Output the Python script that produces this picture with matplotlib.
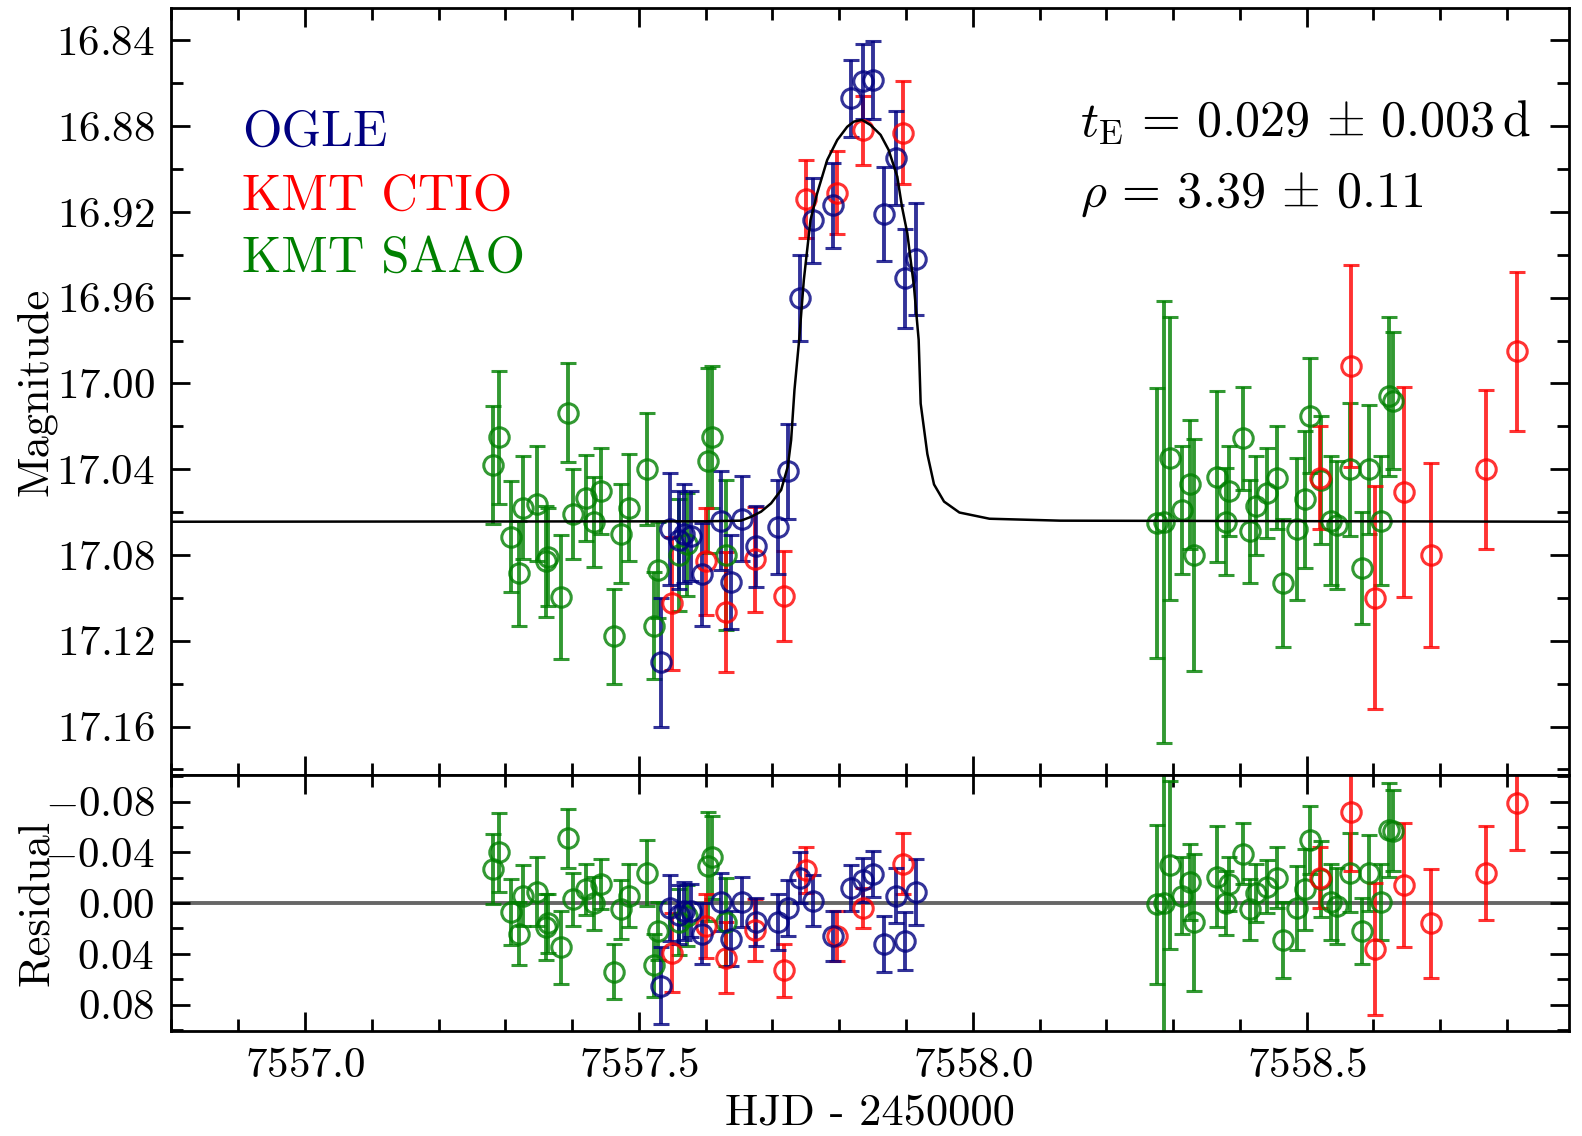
import numpy as np
import matplotlib
matplotlib.use('Agg')
import matplotlib.pyplot as plt
from matplotlib.ticker import MultipleLocator, FuncFormatter

# Computer Modern look (matplotlib ships the cm fonts)
plt.rcParams['font.family'] = 'serif'
plt.rcParams['font.serif'] = ['cmr10', 'DejaVu Serif']
plt.rcParams['mathtext.fontset'] = 'cm'
plt.rcParams['axes.unicode_minus'] = False

# OGLE data: HJD-2450000, magnitude, error, residual
ogle_t = [7557.533, 7557.547, 7557.560, 7557.568, 7557.578, 7557.595, 7557.623, 7557.638,
          7557.655, 7557.675, 7557.708, 7557.723, 7557.741, 7557.760, 7557.791, 7557.817,
          7557.835, 7557.851, 7557.867, 7557.885, 7557.898, 7557.915]
ogle_mag = [17.130, 17.068, 17.073, 17.070, 17.071, 17.089, 17.064, 17.0925,
            17.063, 17.076, 17.067, 17.041, 16.960, 16.924, 16.917, 16.867,
            16.859, 16.8585, 16.921, 16.895, 16.951, 16.942]
ogle_err = [0.030, 0.026, 0.023, 0.023, 0.021, 0.024, 0.023, 0.022,
            0.020, 0.019, 0.022, 0.022, 0.020, 0.020, 0.020, 0.018,
            0.0175, 0.018, 0.022, 0.022, 0.023, 0.026]
ogle_res = [0.065, 0.004, 0.009, 0.006, 0.006, 0.024, -0.001, 0.028,
            -0.001, 0.015, 0.015, 0.004, -0.020, -0.002, 0.026, -0.012,
            -0.018, -0.023, 0.032, -0.006, 0.030, -0.009]

# KMT CTIO data
ctio_t = [7557.549, 7557.600, 7557.630, 7557.674, 7557.718, 7557.750, 7557.797, 7557.835,
          7557.895, 7558.520, 7558.566, 7558.602, 7558.646, 7558.686, 7558.769, 7558.815]
ctio_mag = [17.1025, 17.083, 17.1065, 17.082, 17.099, 16.914, 16.911, 16.882,
            16.883, 17.044, 16.992, 17.100, 17.0505, 17.080, 17.040, 16.985]
ctio_err = [0.031, 0.025, 0.028, 0.0245, 0.021, 0.018, 0.0195, 0.016,
            0.024, 0.024, 0.047, 0.052, 0.049, 0.043, 0.037, 0.037]
ctio_res = [0.039, 0.018, 0.043, 0.021, 0.053, -0.026, 0.026, 0.004,
            -0.031, -0.020, -0.072, 0.036, -0.014, 0.016, -0.024, -0.079]

# KMT SAAO data
saao_t = [7557.281, 7557.291, 7557.309, 7557.321, 7557.327, 7557.348, 7557.361, 7557.364,
          7557.383, 7557.394, 7557.402, 7557.421, 7557.433, 7557.443, 7557.463, 7557.473,
          7557.485, 7557.512, 7557.522, 7557.529, 7557.560, 7557.572, 7557.603, 7557.609,
          7557.630,
          7558.2765, 7558.286, 7558.295, 7558.314, 7558.325, 7558.332, 7558.366, 7558.379,
          7558.384, 7558.405, 7558.415, 7558.424, 7558.441, 7558.455, 7558.464, 7558.485,
          7558.497, 7558.505, 7558.521, 7558.536, 7558.545, 7558.565, 7558.583, 7558.593,
          7558.612, 7558.623, 7558.630]
saao_mag = [17.038, 17.025, 17.0715, 17.0886, 17.058, 17.056, 17.083, 17.081,
            17.0995, 17.0136, 17.061, 17.0536, 17.0645, 17.050, 17.118, 17.070,
            17.058, 17.040, 17.113, 17.087, 17.080, 17.075, 17.036, 17.025,
            17.080,
            17.065, 17.0645, 17.035, 17.059, 17.047, 17.080, 17.0435, 17.0645,
            17.050, 17.0256, 17.069, 17.057, 17.051, 17.044, 17.093, 17.068,
            17.054, 17.015, 17.045, 17.064, 17.066, 17.040, 17.086, 17.040,
            17.064, 17.006, 17.008]
saao_err = [0.0276, 0.031, 0.026, 0.0245, 0.024, 0.027, 0.026, 0.023,
            0.029, 0.023, 0.021, 0.020, 0.021, 0.020, 0.022, 0.023,
            0.025, 0.026, 0.025, 0.0226, 0.026, 0.024, 0.043, 0.033,
            0.035,
            0.063, 0.103, 0.066, 0.030, 0.030, 0.054, 0.040, 0.025,
            0.021, 0.024, 0.024, 0.023, 0.021, 0.024, 0.030, 0.033,
            0.032, 0.027, 0.030, 0.030, 0.030, 0.031, 0.026, 0.030,
            0.030, 0.037, 0.032]
saao_res = [-0.027, -0.040, 0.007, 0.024, -0.006, -0.009, 0.019, 0.016,
            0.035, -0.051, -0.003, -0.011, 0.000, -0.015, 0.054, 0.005,
            -0.006, -0.024, 0.049, 0.022, 0.015, 0.010, -0.029, -0.036,
            0.015,
            0.001, 0.000, -0.030, -0.006, -0.017, 0.015, -0.021, 0.000,
            -0.015, -0.039, 0.005, -0.008, -0.013, -0.020, 0.029, 0.004,
            -0.011, -0.050, -0.019, -0.001, 0.002, -0.024, 0.022, -0.024,
            -0.001, -0.058, -0.057]

# best-fit model curve
model_t = [7556.80, 7557.60, 7557.653, 7557.668, 7557.683, 7557.698, 7557.713, 7557.723,
           7557.728, 7557.733, 7557.740, 7557.747, 7557.757, 7557.767, 7557.782, 7557.797,
           7557.812, 7557.822, 7557.834, 7557.847, 7557.862, 7557.874, 7557.887, 7557.894,
           7557.902, 7557.912, 7557.919, 7557.922, 7557.932, 7557.942, 7557.957, 7557.980,
           7558.025, 7558.131, 7558.893]
model_mag = [17.0645, 17.0643, 17.0640, 17.0622, 17.0598, 17.0559, 17.0497, 17.0388,
             17.0264, 17.0030, 16.9797, 16.9518, 16.9238, 16.9113, 16.8958, 16.8865,
             16.8803, 16.8779, 16.8771, 16.8795, 16.8841, 16.8911, 16.9036, 16.9176,
             16.9300, 16.9549, 16.9797, 17.0094, 17.0329, 17.0471, 17.0551, 17.0602,
             17.0631, 17.0640, 17.0645]

datasets = [
    ('KMT SAAO', 'green', saao_t, saao_mag, saao_err, saao_res),
    ('KMT CTIO', 'red', ctio_t, ctio_mag, ctio_err, ctio_res),
    ('OGLE', 'navy', ogle_t, ogle_mag, ogle_err, ogle_res),
]

fig = plt.figure(figsize=(15.82, 11.36), dpi=100)
ax1 = fig.add_axes([0.1084, 0.3178, 0.8834, 0.6752])
ax2 = fig.add_axes([0.1084, 0.0922, 0.8834, 0.2256], sharex=ax1)

ekw = dict(fmt='o', mfc='none', ms=14, mew=2.2, elinewidth=2.8, capsize=5.5,
           capthick=2.8, alpha=0.8)
for name, col, t, mag, err, res in datasets:
    ax1.errorbar(t, mag, yerr=err, color=col, mec=col, **ekw)
    ax2.errorbar(t, res, yerr=err, color=col, mec=col, **ekw)

ax1.plot(model_t, model_mag, color='black', lw=1.8, zorder=5)
ax2.axhline(0, color='0.4', lw=2.8, zorder=1)

ax1.set_xlim(7556.80, 7558.893)
ax1.set_ylim(17.1826, 16.8249)
ax2.set_ylim(0.1011, -0.1011)


def mfmt(dec):
    def f(v, pos):
        if abs(v) < 1e-9:
            v = 0.0
        return '$%.*f$' % (dec, v)
    return FuncFormatter(f)


ax2.xaxis.set_major_locator(MultipleLocator(0.5))
ax2.xaxis.set_minor_locator(MultipleLocator(0.1))
ax2.xaxis.set_major_formatter(mfmt(1))
ax1.yaxis.set_major_locator(MultipleLocator(0.04))
ax1.yaxis.set_minor_locator(MultipleLocator(0.02))
ax1.yaxis.set_major_formatter(mfmt(2))
ax2.yaxis.set_major_locator(MultipleLocator(0.04))
ax2.yaxis.set_minor_locator(MultipleLocator(0.02))
ax2.yaxis.set_major_formatter(mfmt(2))

for ax in (ax1, ax2):
    ax.tick_params(which='both', direction='in', top=True, right=True, width=2,
                   labelsize=31, pad=12)
    ax.tick_params(which='major', length=14)
    ax.tick_params(which='minor', length=8.5)
    for s in ax.spines.values():
        s.set_linewidth(2)
ax1.tick_params(labelbottom=False)

ax1.set_ylabel('Magnitude', fontsize=32)
ax2.set_ylabel('Residual', fontsize=32)
ax1.yaxis.set_label_coords(-0.082, 0.5)
ax2.yaxis.set_label_coords(-0.082, 0.5)
ax2.set_xlabel('HJD - 2450000', fontsize=32, labelpad=6)

# labels for the data sets
ax1.text(0.0505, 0.820, 'OGLE', color='navy', fontsize=36.5, transform=ax1.transAxes)
ax1.text(0.0505, 0.7366, 'KMT CTIO', color='red', fontsize=36.5, transform=ax1.transAxes)
ax1.text(0.0505, 0.656, 'KMT SAAO', color='green', fontsize=36.5, transform=ax1.transAxes)

ax1.text(0.650, 0.833, r'$t_{\rm E} \,=\, 0.029 \,\pm\, 0.003\,{\rm d}$', fontsize=36,
         transform=ax1.transAxes)
ax1.text(0.650, 0.741, r'$\rho \,=\, 3.39 \,\pm\, 0.11$', fontsize=36,
         transform=ax1.transAxes)

fig.savefig('out.png', dpi=100)
